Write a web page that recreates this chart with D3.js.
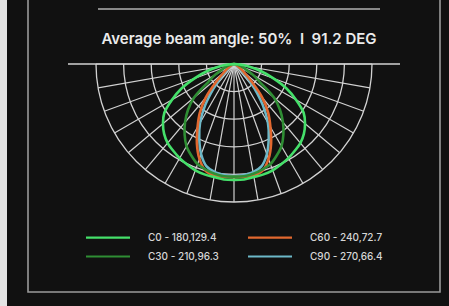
<!DOCTYPE html>
<html lang="en">
<head>
<meta charset="utf-8">
<title>Polar beam chart</title>
<script src="https://cdnjs.cloudflare.com/ajax/libs/d3/7.8.5/d3.min.js"></script>
<style>
  html, body { margin: 0; padding: 0; background: #111; }
  svg { display: block; }
</style>
</head>
<body>
<div id="chart"></div>
<script>
// angles in degrees from nadir, 0..90 (mirrored for the C180.. side)
const angles = [0, 5, 10, 15, 20, 25, 30, 35, 40, 45, 50, 55, 60, 65, 70, 75, 80, 85, 90];
// relative intensity (outer ring = 250)
const c0   = [210, 210, 208, 207, 205, 201, 197, 192, 187, 179, 168, 154, 130, 105, 76, 51, 27, 11, 0];
const c30  = [204, 204, 202, 198, 193, 183, 172, 156, 138, 118, 94, 57, 40, 25, 16, 11, 7, 4, 0];
const c60  = [205, 205, 205, 200, 183, 159, 132, 108, 80, 45, 24, 14, 9, 5, 4, 3, 2, 1, 0];
const c90  = [203, 202, 199, 192, 174, 149, 123, 91, 58, 33, 16, 9, 5, 4, 2, 1, 1, 0, 0];

const seriesNames = ["C0 - 180,129.4", "C30 - 210,96.3", "C60 - 240,72.7", "C90 - 270,66.4"];
const seriesColors = ["#45e06a", "#2f8e34", "#e2682f", "#6cb8c8"];
const seriesData = [c0, c30, c60, c90];

const rings = [50, 100, 150, 200, 250];
const spokes = d3.range(-90, 91, 10);
const title = "Average beam angle: 50%  I  91.2 DEG";

const W = 449, H = 306;
const cx = 234, cy = 64;
const R = 138;

const svg = d3.select("#chart").append("svg")
  .attr("width", W).attr("height", H);

svg.append("rect").attr("width", W).attr("height", H).attr("fill", "#111111");
// light page edge on the left
svg.append("rect").attr("x", 0).attr("y", 0).attr("width", 7).attr("height", H).attr("fill", "#e4e4e4");

// frame
svg.append("path")
  .attr("d", "M28,0 V292 H440 V0")
  .attr("fill", "none").attr("stroke", "#9a9a9a").attr("stroke-width", 1.6);
svg.append("line")
  .attr("x1", 98).attr("x2", 380).attr("y1", 9).attr("y2", 9)
  .attr("stroke", "#888").attr("stroke-width", 2);

svg.append("text")
  .attr("x", 239).attr("y", 43.5)
  .attr("text-anchor", "middle")
  .attr("font-family", "Inter, 'Noto Sans', sans-serif")
  .attr("font-weight", 600)
  .attr("font-size", 15)
  .attr("fill", "#ebebeb")
  .style("white-space", "pre")
  .text(title);

const r = d3.scaleLinear().domain([0, 250]).range([0, R]);

const g = svg.append("g").attr("transform", "translate(" + cx + "," + cy + ")");

// grid
g.append("line")
  .attr("x1", -166).attr("x2", 166).attr("y1", 0).attr("y2", 0)
  .attr("stroke", "#d2d2d2").attr("stroke-width", 1.3);

g.selectAll(".ring")
  .data(rings)
  .enter().append("path")
  .attr("class", "ring")
  .attr("d", d => "M" + (-r(d)) + ",0 A" + r(d) + "," + r(d) + " 0 0 0 " + r(d) + ",0")
  .attr("fill", "none").attr("stroke", "#d2d2d2").attr("stroke-width", 1.3);

g.selectAll(".spoke")
  .data(spokes)
  .enter().append("line")
  .attr("class", "spoke")
  .attr("x1", 0).attr("y1", 0)
  .attr("x2", d => R * Math.sin(d * Math.PI / 180))
  .attr("y2", d => R * Math.cos(d * Math.PI / 180))
  .attr("stroke", "#d2d2d2").attr("stroke-width", 1.2);

// curves
const line = d3.lineRadial()
  .angle(d => Math.PI - d.a * Math.PI / 180)
  .radius(d => r(d.v))
  .curve(d3.curveCatmullRom);

function fullCurve(vals) {
  const pts = [];
  for (let i = angles.length - 1; i > 0; i--) pts.push({ a: -angles[i], v: vals[i] });
  for (let i = 0; i < angles.length; i++) pts.push({ a: angles[i], v: vals[i] });
  return pts;
}

const drawOrder = [3, 2, 1, 0];
g.selectAll(".curve")
  .data(drawOrder)
  .enter().append("path")
  .attr("class", "curve")
  .attr("d", i => line(fullCurve(seriesData[i])))
  .attr("fill", "none")
  .attr("stroke", i => seriesColors[i])
  .attr("stroke-width", 2.6)
  .attr("stroke-linejoin", "round");

// legend
const legend = svg.append("g").selectAll("g")
  .data(seriesNames)
  .enter().append("g")
  .attr("transform", (d, i) => "translate(" + (86 + Math.floor(i / 2) * 162) + "," + (237.7 + (i % 2) * 18.8) + ")");

legend.append("line")
  .attr("x1", 0).attr("x2", 44).attr("y1", 0).attr("y2", 0)
  .attr("stroke", (d, i) => seriesColors[i])
  .attr("stroke-width", 2.2);

legend.append("text")
  .attr("x", 62).attr("y", 3.5)
  .attr("font-family", "Inter, 'Noto Sans', sans-serif")
  .attr("font-weight", 500)
  .attr("font-size", 10)
  .attr("fill", "#d6d6d6")
  .text(d => d);
</script>
</body>
</html>
